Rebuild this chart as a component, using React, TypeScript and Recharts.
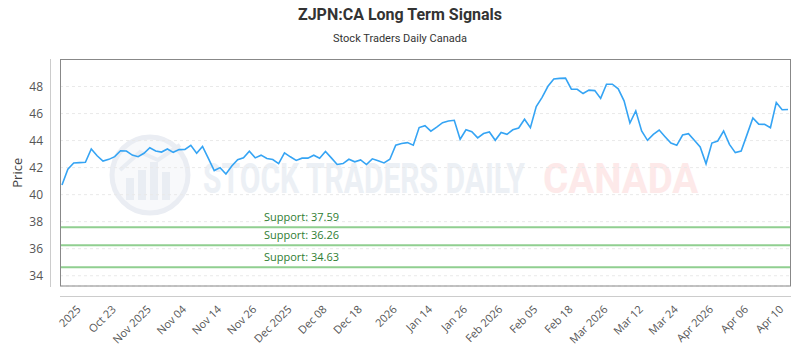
import { LineChart, Line, XAxis, YAxis, CartesianGrid, ReferenceLine } from 'recharts'

const prices = [
  40.72, 41.88, 42.34, 42.37, 42.39, 43.38, 42.88, 42.49, 42.61, 42.81,
  43.25, 43.23, 42.93, 42.81, 43.06, 43.47, 43.23, 43.15, 43.38, 43.13,
  43.33, 43.35, 43.65, 43.06, 43.57, 42.68, 41.78, 42.0, 41.53, 42.12,
  42.58, 42.72, 43.21, 42.72, 42.92, 42.67, 42.6, 42.3, 43.09, 42.8,
  42.53, 42.7, 42.7, 42.92, 42.7, 43.19, 42.72, 42.23, 42.3, 42.62,
  42.43, 42.57, 42.23, 42.65, 42.5, 42.35, 42.62, 43.66, 43.78, 43.85,
  43.66, 44.96, 45.1, 44.7, 45.0, 45.33, 45.45, 45.5, 44.1, 44.8,
  44.65, 44.2, 44.52, 44.64, 44.02, 44.6, 44.46, 44.8, 44.93, 45.58,
  44.96, 46.52, 47.2, 48.02, 48.56, 48.6, 48.62, 47.8, 47.8, 47.48,
  47.73, 47.7, 47.12, 48.17, 48.17, 47.83, 46.94, 45.3, 46.2, 44.71,
  44.02, 44.46, 44.78, 44.29, 43.82, 43.65, 44.41, 44.51, 44.02, 43.53,
  42.28, 43.82, 43.97, 44.71, 43.72, 43.11, 43.23, 44.44, 45.67, 45.22,
  45.2, 44.95, 46.82, 46.28, 46.3,
]

const tickIndex = [3, 9, 15, 21, 27, 33, 39, 45, 51, 57, 63, 69, 75, 81, 87, 93, 99, 105, 111, 117, 123]
const tickLabels = [
  '2025', 'Oct 23', 'Nov 2025', 'Nov 04', 'Nov 14', 'Nov 26', 'Dec 2025', 'Dec 08', 'Dec 18', '2026',
  'Jan 14', 'Jan 26', 'Feb 2026', 'Feb 05', 'Feb 18', 'Mar 2026', 'Mar 12', 'Mar 24', 'Apr 2026', 'Apr 06', 'Apr 10',
]
const yTicks = [34, 36, 38, 40, 42, 44, 46, 48]
const supports = [37.59, 36.26, 34.63]

const data = prices.map((price, i) => ({ i, price }))

const XTick = (props: any) => {
  const { x, y, payload } = props
  const k = tickIndex.indexOf(payload.value)
  const ax = x + 2
  const ay = y + 22
  return (
    <text x={ax} y={ay} transform={`rotate(-45 ${ax} ${ay})`} textAnchor="end" fontSize={11} fill="#555">
      {k >= 0 ? tickLabels[k] : ''}
    </text>
  )
}

const SupportLabel = (props: any) => {
  const { viewBox, text } = props
  if (!viewBox) return null
  return (
    <text x={viewBox.x + 204} y={viewBox.y - 6} fontSize={11} fill="#2e7d32">
      {text}
    </text>
  )
}

const PriceLabel = (props: any) => {
  const { viewBox } = props
  if (!viewBox) return null
  const cx = viewBox.x + 17
  const cy = viewBox.y + viewBox.height / 2
  return (
    <text x={cx} y={cy} transform={`rotate(-90 ${cx} ${cy})`} textAnchor="middle" dominantBaseline="central" fontSize={13} fill="#444">
      Price
    </text>
  )
}

export default function App() {
  return (
    <div style={{ position: 'absolute', left: 0, top: 0, width: 800, height: 350, background: '#fff', fontFamily: "'Open Sans', sans-serif" }}>
      <div style={{ position: 'absolute', left: 0, top: 5, width: 800, textAlign: 'center', fontFamily: 'Roboto, sans-serif', fontWeight: 700, fontSize: 16, color: '#333' }}>
        ZJPN:CA Long Term Signals
      </div>
      <div style={{ position: 'absolute', left: 0, top: 32, width: 800, textAlign: 'center', fontFamily: 'Roboto, sans-serif', fontSize: 11, color: '#333' }}>
        Stock Traders Daily Canada
      </div>

      {/* watermark behind the chart */}
      <svg width={800} height={350} style={{ position: 'absolute', left: 0, top: 0 }}>
        <circle cx={150} cy={175} r={38} fill="#f8f9fb" stroke="#eaedf3" strokeWidth={5} />
        <rect x={126} y={178} width={8} height={22} fill="#e9edf3" />
        <rect x={138} y={170} width={8} height={30} fill="#e9edf3" />
        <rect x={150} y={162} width={8} height={38} fill="#e9edf3" />
        <rect x={162} y={172} width={8} height={28} fill="#e9edf3" />
        <polyline points="120,170 140,152 158,160 180,145" fill="none" stroke="#e9edf3" strokeWidth={4} />
        <text transform="translate(203 193) scale(0.75 1)" fontSize={42} fontWeight={700} fill="#ecf0f5" textLength={429} lengthAdjust="spacingAndGlyphs" fontFamily="Roboto, sans-serif">
          STOCK TRADERS DAILY
        </text>
        <text transform="translate(543 193) scale(0.75 1)" fontSize={42} fontWeight={700} fill="#fde9e9" textLength={207} lengthAdjust="spacingAndGlyphs" fontFamily="Roboto, sans-serif">
          CANADA
        </text>
      </svg>

      <div style={{ position: 'absolute', left: 0, top: 0 }}>
        <LineChart width={800} height={350} data={data} margin={{ top: 59.5, right: 9, bottom: 0, left: 0 }}>
          <CartesianGrid vertical={false} strokeDasharray="3 3" stroke="#e9e9e9" />
          <XAxis
            dataKey="i"
            type="number"
            domain={[0, prices.length - 1]}
            ticks={tickIndex}
            interval={0}
            padding={{ left: 2, right: 3 }}
            axisLine={false}
            tickLine={false}
            tickSize={0}
            height={64}
            tick={<XTick />}
          />
          <YAxis
            domain={[33.24, 50]}
            ticks={yTicks}
            allowDataOverflow
            axisLine={false}
            tickLine={false}
            tickSize={0}
            tickMargin={17}
            width={60}
            tick={{ fontSize: 12, fill: '#555' }}
            label={<PriceLabel />}
          />
          {supports.map((s) => (
            <ReferenceLine key={s} y={s} stroke="#90cf90" strokeWidth={2} label={<SupportLabel text={`Support: ${s.toFixed(2)}`} />} />
          ))}
          <Line type="linear" dataKey="price" stroke="#35a4f4" strokeWidth={1.6} dot={false} isAnimationActive={false} />
        </LineChart>
      </div>

      {/* plot frame and offset axis lines on top */}
      <svg width={800} height={350} style={{ position: 'absolute', left: 0, top: 0, pointerEvents: 'none' }}>
        <line x1={50.5} y1={59} x2={50.5} y2={287} stroke="#ccc" />
        <line x1={60} y1={296.5} x2={791} y2={296.5} stroke="#ccc" />
        <rect x={60.5} y={59.5} width={730} height={226.5} fill="none" stroke="#888" />
      </svg>
    </div>
  )
}
